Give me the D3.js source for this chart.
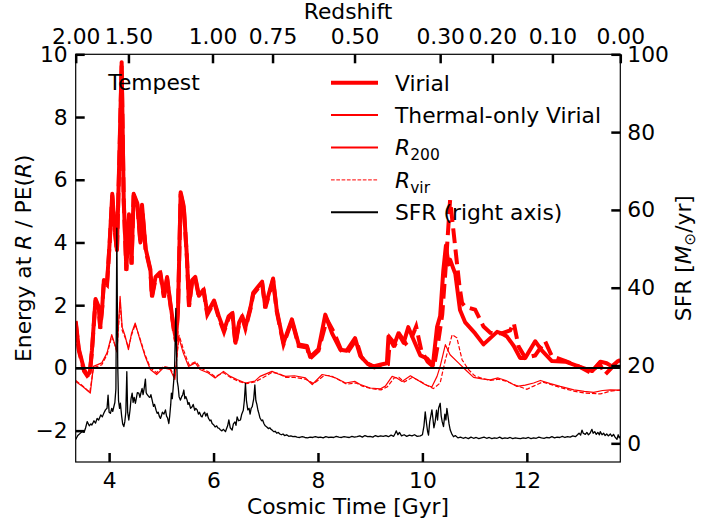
<!DOCTYPE html>
<html><head><meta charset="utf-8">
<script src="https://cdn.jsdelivr.net/npm/d3@7"></script>
<style>
body{margin:0;background:#fff;}
svg{display:block;font-family:"DejaVu Sans",sans-serif;}
</style></head>
<body><svg id="c" width="721" height="521"></svg>
<script>
// ---- data (cosmic time [Gyr], value) ----
const xTicks = [4, 6, 8, 10, 12];
const yLeftTicks = [-2, 0, 2, 4, 6, 8, 10];
const yRightTicks = [0, 20, 40, 60, 80, 100];
const zTickLabels = ["2.00","1.50","1.00","0.75","0.50","0.30","0.20","0.10","0.00"];
const zTickTimes  = [3.36, 4.37, 5.98, 7.13, 8.70, 10.34, 11.34, 12.49, 13.79];

const virialR200 = [[3.36,1.50],[3.42,0.60],[3.52,-0.05],[3.58,-0.22],[3.63,-0.15],[3.67,0.55],[3.74,2.20],[3.80,1.95],[3.83,1.30],[3.87,2.00],[3.90,2.80],[3.96,2.70],[4.01,4.00],[4.06,5.55],[4.11,4.40],[4.15,3.75],[4.20,7.00],[4.24,9.75],[4.28,5.35],[4.33,3.15],[4.38,4.90],[4.43,3.35],[4.47,5.55],[4.54,5.25],[4.60,4.00],[4.63,5.20],[4.70,3.80],[4.79,3.15],[4.82,2.30],[4.89,2.90],[4.98,3.05],[5.05,2.30],[5.11,2.90],[5.17,2.10],[5.24,1.25],[5.28,0.90],[5.32,1.90],[5.37,5.60],[5.43,5.15],[5.49,3.55],[5.53,2.00],[5.59,2.80],[5.65,2.90],[5.72,2.30],[5.81,2.50],[5.88,1.75],[6.01,2.15],[6.10,1.65],[6.20,1.20],[6.29,1.65],[6.36,1.75],[6.42,0.80],[6.49,1.45],[6.55,1.65],[6.61,1.30],[6.71,1.95],[6.76,2.40],[6.93,2.75],[6.99,1.95],[7.14,2.85],[7.21,1.85],[7.34,0.80],[7.50,1.55],[7.63,0.75],[7.79,0.70],[7.85,0.35],[8.01,0.60],[8.14,1.70],[8.27,1.10],[8.43,0.58],[8.55,0.55],[8.71,0.95],[8.81,0.38],[8.94,0.15],[9.06,0.05],[9.19,0.10],[9.32,0.15],[9.35,1.00],[9.45,0.70],[9.54,1.10],[9.64,0.80],[9.73,1.30],[9.83,0.90],[9.96,0.40],[10.09,0.30],[10.20,0.08],[10.28,1.30],[10.34,1.65],[10.40,3.10],[10.45,3.90],[10.50,3.30],[10.53,3.45],[10.63,3.00],[10.72,1.85],[10.82,1.45],[11.01,1.10],[11.17,0.75],[11.30,0.95],[11.43,1.15],[11.52,1.10],[11.62,1.00],[11.75,0.70],[11.87,0.32],[11.97,0.32],[12.16,0.85],[12.29,0.55],[12.48,0.22],[12.74,0.20],[12.99,0.05],[13.25,-0.10],[13.41,0.20],[13.53,0.15],[13.63,0.05],[13.73,0.20],[13.79,0.25]];

const virialRvir = [[3.36,1.45],[3.42,0.55],[3.52,-0.10],[3.58,-0.25],[3.63,-0.18],[3.67,0.50],[3.74,2.15],[3.80,1.90],[3.83,1.25],[3.87,1.95],[3.90,2.75],[3.96,2.65],[4.01,3.95],[4.06,5.50],[4.11,4.35],[4.15,3.70],[4.20,6.90],[4.24,9.65],[4.28,5.30],[4.33,3.10],[4.38,4.85],[4.43,3.30],[4.47,5.50],[4.54,5.20],[4.60,3.95],[4.63,5.15],[4.70,3.75],[4.79,3.10],[4.82,2.25],[4.89,2.85],[4.98,3.00],[5.05,2.25],[5.11,2.85],[5.17,2.05],[5.24,1.20],[5.28,0.85],[5.32,1.85],[5.37,5.55],[5.43,5.10],[5.49,3.50],[5.53,1.95],[5.59,2.75],[5.65,2.85],[5.72,2.25],[5.81,2.45],[5.88,1.70],[6.01,2.10],[6.10,1.60],[6.20,1.15],[6.29,1.60],[6.36,1.70],[6.42,0.75],[6.49,1.40],[6.55,1.60],[6.61,1.25],[6.71,1.90],[6.76,2.35],[6.93,2.70],[6.99,1.90],[7.14,2.80],[7.21,1.80],[7.34,0.75],[7.50,1.50],[7.63,0.70],[7.79,0.65],[7.85,0.30],[8.01,0.55],[8.17,1.55],[8.30,1.15],[8.45,0.55],[8.57,0.50],[8.73,0.90],[8.83,0.35],[8.96,0.12],[9.08,0.02],[9.21,0.08],[9.34,0.12],[9.38,0.95],[9.48,0.75],[9.57,1.05],[9.68,0.78],[9.79,0.95],[9.88,1.32],[9.98,0.55],[10.10,0.20],[10.22,0.02],[10.30,0.80],[10.38,1.70],[10.45,3.30],[10.53,5.35],[10.58,4.60],[10.62,3.98],[10.71,2.60],[10.76,2.07],[10.82,1.95],[11.01,1.86],[11.17,1.32],[11.30,1.12],[11.52,1.10],[11.68,1.20],[11.75,1.43],[11.84,0.69],[11.97,0.32],[12.16,0.40],[12.35,0.85],[12.48,0.37],[12.74,0.22],[12.99,0.05],[13.23,-0.16],[13.39,0.15],[13.50,-0.21],[13.65,0.05],[13.79,0.20]];

const thermalR200 = [[3.36,-0.43],[3.50,-0.60],[3.64,-0.80],[3.70,0.05],[3.86,0.16],[3.96,0.48],[4.05,1.06],[4.10,0.80],[4.15,0.53],[4.21,2.28],[4.25,1.30],[4.31,1.00],[4.37,0.58],[4.43,1.11],[4.50,1.43],[4.59,0.90],[4.69,0.37],[4.79,-0.05],[4.91,-0.21],[5.04,0.00],[5.17,-0.05],[5.26,-0.37],[5.33,1.00],[5.42,0.48],[5.52,0.05],[5.65,0.16],[5.74,-0.05],[5.90,-0.16],[6.03,-0.32],[6.19,-0.11],[6.32,-0.27],[6.45,-0.37],[6.61,-0.48],[6.79,-0.42],[6.89,-0.27],[7.12,-0.11],[7.25,-0.20],[7.38,-0.27],[7.55,-0.25],[7.76,-0.32],[7.89,-0.53],[8.08,-0.21],[8.20,-0.25],[8.34,-0.32],[8.53,-0.48],[8.71,-0.43],[8.81,-0.53],[9.00,-0.64],[9.19,-0.67],[9.29,-0.58],[9.42,-0.27],[9.51,-0.32],[9.61,-0.43],[9.77,-0.25],[9.89,-0.37],[10.05,-0.53],[10.18,-0.61],[10.28,-0.27],[10.34,0.05],[10.44,0.74],[10.53,0.42],[10.69,0.16],[10.82,-0.05],[10.98,-0.30],[11.14,-0.35],[11.30,-0.38],[11.45,-0.32],[11.60,-0.40],[11.81,-0.59],[11.97,-0.55],[12.13,-0.48],[12.26,-0.40],[12.45,-0.50],[12.64,-0.59],[12.90,-0.70],[13.10,-0.75],[13.28,-0.78],[13.45,-0.72],[13.60,-0.70],[13.79,-0.71]];

const thermalRvir = [[3.36,-0.40],[3.50,-0.58],[3.63,-0.78],[3.70,0.00],[3.86,0.10],[3.96,0.42],[4.05,1.00],[4.10,0.78],[4.15,0.50],[4.21,2.10],[4.25,1.20],[4.31,0.95],[4.37,0.65],[4.43,1.05],[4.50,1.38],[4.59,0.95],[4.69,0.42],[4.79,0.00],[4.91,-0.15],[5.04,0.05],[5.17,0.00],[5.26,-0.32],[5.34,1.05],[5.43,0.55],[5.53,0.10],[5.66,0.20],[5.75,0.00],[5.90,-0.12],[6.03,-0.28],[6.19,-0.15],[6.32,-0.30],[6.47,-0.42],[6.63,-0.50],[6.79,-0.45],[6.96,-0.30],[7.12,-0.14],[7.25,-0.18],[7.38,-0.30],[7.55,-0.30],[7.76,-0.36],[7.92,-0.50],[8.12,-0.24],[8.25,-0.25],[8.38,-0.36],[8.55,-0.52],[8.73,-0.48],[8.85,-0.58],[9.02,-0.66],[9.21,-0.70],[9.33,-0.60],[9.46,-0.32],[9.55,-0.30],[9.65,-0.45],[9.81,-0.30],[9.93,-0.40],[10.08,-0.55],[10.21,-0.66],[10.34,-0.48],[10.44,0.26],[10.57,1.06],[10.66,0.96],[10.76,0.26],[10.88,-0.05],[11.00,-0.25],[11.14,-0.33],[11.30,-0.40],[11.45,-0.36],[11.60,-0.42],[11.80,-0.56],[12.00,-0.68],[12.13,-0.58],[12.30,-0.45],[12.50,-0.55],[12.70,-0.65],[12.90,-0.74],[13.10,-0.80],[13.41,-0.83],[13.60,-0.74],[13.79,-0.71]];

const sfr = [[3.36,1.0],[3.40,2.0],[3.44,2.5],[3.48,3.0],[3.52,2.8],[3.55,4.0],[3.58,5.6],[3.62,4.5],[3.65,5.0],[3.67,4.7],[3.71,5.8],[3.74,5.2],[3.77,6.4],[3.80,6.0],[3.84,7.3],[3.87,6.8],[3.90,7.8],[3.93,8.6],[3.96,9.0],[3.98,12.4],[4.00,8.0],[4.025,7.7],[4.05,9.0],[4.07,8.2],[4.09,9.4],[4.11,10.5],[4.13,14.0],[4.148,55.3],[4.165,20.0],[4.18,11.0],[4.20,9.0],[4.216,10.3],[4.24,7.0],[4.26,5.0],[4.282,4.3],[4.30,5.5],[4.32,8.0],[4.339,18.4],[4.355,8.0],[4.377,6.0],[4.40,8.5],[4.42,11.5],[4.441,12.9],[4.46,10.5],[4.48,11.8],[4.504,10.3],[4.52,11.5],[4.54,13.0],[4.569,12.9],[4.59,11.8],[4.61,13.0],[4.632,14.1],[4.65,12.5],[4.67,14.0],[4.695,16.5],[4.71,13.0],[4.73,12.5],[4.761,12.0],[4.78,11.8],[4.80,12.5],[4.824,11.1],[4.85,9.5],[4.87,10.0],[4.90,8.5],[4.920,7.7],[4.94,8.0],[4.96,7.0],[4.983,6.4],[5.00,7.0],[5.02,8.0],[5.05,7.5],[5.079,8.6],[5.10,7.0],[5.12,6.5],[5.144,5.1],[5.16,7.0],[5.18,10.0],[5.193,12.9],[5.21,11.5],[5.239,16.3],[5.255,20.0],[5.278,34.7],[5.29,24.0],[5.305,16.0],[5.322,14.6],[5.34,12.0],[5.366,11.1],[5.39,12.0],[5.41,12.5],[5.431,13.7],[5.45,11.5],[5.47,12.0],[5.494,11.1],[5.51,10.0],[5.53,10.5],[5.56,9.0],[5.59,9.4],[5.61,10.0],[5.64,8.5],[5.66,9.0],[5.686,8.6],[5.71,7.5],[5.73,8.0],[5.76,7.0],[5.782,6.8],[5.80,7.5],[5.83,8.0],[5.85,7.0],[5.877,7.7],[5.90,6.5],[5.93,5.8],[5.95,6.0],[5.973,5.1],[6.00,4.8],[6.03,4.2],[6.06,4.5],[6.08,4.0],[6.102,3.9],[6.13,3.5],[6.16,3.2],[6.19,3.6],[6.228,3.0],[6.25,3.8],[6.27,4.5],[6.293,6.0],[6.32,4.0],[6.356,3.4],[6.38,5.0],[6.41,5.5],[6.43,4.6],[6.452,6.8],[6.48,5.8],[6.515,6.0],[6.54,7.5],[6.57,8.5],[6.59,11.0],[6.611,15.4],[6.63,11.0],[6.656,8.6],[6.68,9.0],[6.70,7.5],[6.72,9.0],[6.74,9.4],[6.77,11.5],[6.791,15.0],[6.81,11.0],[6.83,10.0],[6.85,8.5],[6.868,7.7],[6.89,6.5],[6.92,5.8],[6.94,6.0],[6.964,5.1],[6.99,4.5],[7.02,4.2],[7.05,3.8],[7.08,4.0],[7.10,3.6],[7.123,3.4],[7.15,3.0],[7.18,3.1],[7.21,2.6],[7.24,2.8],[7.27,2.4],[7.30,2.2],[7.33,2.4],[7.36,2.0],[7.40,2.2],[7.44,1.8],[7.48,1.9],[7.52,1.7],[7.56,1.8],[7.60,1.6],[7.65,1.5],[7.70,1.7],[7.75,1.5],[7.80,1.4],[7.85,1.6],[7.90,1.5],[7.95,1.7],[8.00,1.5],[8.05,1.6],[8.10,1.4],[8.15,1.7],[8.20,1.5],[8.25,1.6],[8.30,1.5],[8.35,1.8],[8.40,1.6],[8.45,1.5],[8.50,1.7],[8.55,1.6],[8.60,1.5],[8.65,1.8],[8.70,1.6],[8.75,1.7],[8.80,1.9],[8.85,1.6],[8.90,2.0],[8.95,1.7],[9.00,1.8],[9.05,1.6],[9.10,2.0],[9.15,1.7],[9.20,1.9],[9.25,1.8],[9.30,2.0],[9.35,1.7],[9.40,2.1],[9.45,1.8],[9.48,2.6],[9.50,3.2],[9.53,2.2],[9.56,2.8],[9.60,1.9],[9.65,2.2],[9.70,1.8],[9.75,2.1],[9.80,1.9],[9.85,2.2],[9.90,1.8],[9.96,1.9],[10.00,2.2],[10.03,4.5],[10.054,8.1],[10.08,5.0],[10.10,3.0],[10.117,2.1],[10.14,5.5],[10.16,7.0],[10.182,8.6],[10.20,6.5],[10.22,4.0],[10.245,5.6],[10.27,8.5],[10.29,6.0],[10.31,9.0],[10.341,10.3],[10.36,7.0],[10.38,5.5],[10.404,4.3],[10.43,7.5],[10.45,6.0],[10.469,9.0],[10.49,7.0],[10.51,5.0],[10.533,3.4],[10.56,2.5],[10.596,1.7],[10.63,2.0],[10.68,1.4],[10.73,1.6],[10.78,1.3],[10.83,1.5],[10.88,1.2],[10.93,1.6],[10.98,1.3],[11.03,1.5],[11.08,1.2],[11.13,1.4],[11.18,1.6],[11.23,1.3],[11.28,1.5],[11.33,1.2],[11.38,1.4],[11.43,1.3],[11.48,1.6],[11.53,1.2],[11.58,1.4],[11.63,1.3],[11.68,1.5],[11.73,1.2],[11.78,1.4],[11.83,1.3],[11.88,1.2],[11.93,1.4],[11.98,1.3],[12.03,1.5],[12.08,1.2],[12.13,1.4],[12.18,1.3],[12.23,1.6],[12.28,1.4],[12.33,1.3],[12.38,1.5],[12.43,1.4],[12.48,1.7],[12.53,1.4],[12.58,1.6],[12.63,1.5],[12.68,1.8],[12.73,1.5],[12.78,1.7],[12.83,1.6],[12.88,1.9],[12.93,1.7],[12.97,2.2],[13.00,2.6],[13.03,2.1],[13.056,3.4],[13.08,2.6],[13.12,2.3],[13.15,2.8],[13.18,2.2],[13.21,2.6],[13.247,3.6],[13.27,2.6],[13.30,3.0],[13.33,2.3],[13.36,2.8],[13.39,2.2],[13.406,3.0],[13.44,2.2],[13.47,2.6],[13.50,2.0],[13.53,2.4],[13.56,1.9],[13.60,2.4],[13.63,1.8],[13.66,2.3],[13.69,1.6],[13.726,1.0],[13.75,2.2],[13.77,1.4],[13.79,1.8]];

// ---- layout ----
const L = 75.7, R = 620.3, T = 54.3, B = 462;
const FS = 21.8;
const svg = d3.select("#c");
const x = d3.scaleLinear().domain([3.36, 13.79]).range([L, R]);
const yL = d3.scaleLinear().domain([-3, 10]).range([B, T]);
const yR = d3.scaleLinear().domain([-4.8, 100]).range([B, T]);
const fmt = v => (v < 0 ? "\u2212" + Math.abs(v) : String(v));

const plot = svg.append("g");
plot.append("clipPath").attr("id","clip").append("rect")
  .attr("x", L).attr("y", T).attr("width", R - L).attr("height", B - T);
const g = plot.append("g").attr("clip-path","url(#clip)");

const lineL = d3.line().x(d => x(d[0])).y(d => yL(d[1]));
const lineR = d3.line().x(d => x(d[0])).y(d => yR(d[1]));

g.append("path").datum(thermalRvir).attr("d", lineL).attr("fill","none")
  .attr("stroke","#ff0000").attr("stroke-width",1.2).attr("stroke-dasharray","4.4,1.9");
g.append("path").datum(thermalR200).attr("d", lineL).attr("fill","none")
  .attr("stroke","#ff0000").attr("stroke-width",1.2).attr("stroke-linejoin","round");
g.append("path").datum(virialRvir).attr("d", lineL).attr("fill","none")
  .attr("stroke","#ff0000").attr("stroke-width",4).attr("stroke-dasharray","14.8,6.4");
g.append("path").datum(virialR200).attr("d", lineL).attr("fill","none")
  .attr("stroke","#ff0000").attr("stroke-width",4).attr("stroke-linejoin","round");
g.append("line").attr("x1", L).attr("x2", R).attr("y1", yL(0)).attr("y2", yL(0))
  .attr("stroke","#000").attr("stroke-width",2);
g.append("path").datum(sfr).attr("d", lineR).attr("fill","none")
  .attr("stroke","#000").attr("stroke-width",1.3).attr("stroke-linejoin","round");

// frame
svg.append("rect").attr("x", L).attr("y", T).attr("width", R - L).attr("height", B - T)
  .attr("fill","none").attr("stroke","#000").attr("stroke-width",1.2);

// axes
function styleAxis(sel){
  sel.select(".domain").remove();
  sel.selectAll(".tick line").attr("stroke","#000").attr("stroke-width",2.5);
  sel.selectAll(".tick text").attr("fill","#000").style("font-size", FS + "px")
    .style("font-family","DejaVu Sans");
}
svg.append("g").attr("transform",`translate(0,${B})`)
  .call(d3.axisBottom(x).tickValues(xTicks).tickSize(-9).tickPadding(11).tickFormat(fmt))
  .call(styleAxis);
svg.append("g").attr("transform",`translate(0,${T})`)
  .call(d3.axisTop(x).tickValues(zTickTimes).tickSize(-9).tickPadding(10)
    .tickFormat((d,i) => zTickLabels[i]))
  .call(styleAxis);
svg.append("g").attr("transform",`translate(${L},0)`)
  .call(d3.axisLeft(yL).tickValues(yLeftTicks).tickSize(-9).tickPadding(8).tickFormat(fmt))
  .call(styleAxis);
svg.append("g").attr("transform",`translate(${R},0)`)
  .call(d3.axisRight(yR).tickValues(yRightTicks).tickSize(-9).tickPadding(7).tickFormat(fmt))
  .call(styleAxis);

// axis titles
const txt = (xx, yy) => svg.append("text").attr("x", xx).attr("y", yy)
  .style("font-size", FS + "px").attr("fill","#000");
txt((L + R) / 2, 514).attr("text-anchor","middle").text("Cosmic Time [Gyr]");
txt((L + R) / 2, 19).attr("text-anchor","middle").text("Redshift");

const yl = svg.append("text").attr("transform",`translate(31,${(T + B) / 2}) rotate(-90)`)
  .attr("text-anchor","middle").style("font-size", FS + "px");
yl.append("tspan").text("Energy at ");
yl.append("tspan").style("font-style","italic").text("R");
yl.append("tspan").text(" / PE(");
yl.append("tspan").style("font-style","italic").text("R");
yl.append("tspan").text(")");

const yr = svg.append("text").attr("transform",`translate(691,${(T + B) / 2}) rotate(-90)`)
  .attr("text-anchor","middle").style("font-size", FS + "px");
yr.append("tspan").text("SFR [");
yr.append("tspan").style("font-style","italic").text("M");
yr.append("tspan").attr("dy", 4).style("font-size","15px").text("\u2299");
yr.append("tspan").attr("dy", -4).text("/yr]");

txt(108.3, 90).text("Tempest");

// legend
const legend = [
  {label:"Virial", w:4, dash:null, color:"#ff0000"},
  {label:"Thermal-only Virial", w:2, dash:null, color:"#ff0000"},
  {label:"R200", w:2, dash:null, color:"#ff0000"},
  {label:"Rvir", w:1, dash:"3.7,1.6", color:"#ff0000"},
  {label:"SFR (right axis)", w:2, dash:null, color:"#000"}
];
const lg = svg.append("g");
legend.forEach((d, i) => {
  const cy = 82.7 + i * 32.4;
  lg.append("line").attr("x1", 331).attr("x2", 378).attr("y1", cy).attr("y2", cy)
    .attr("stroke", d.color).attr("stroke-width", d.w)
    .attr("stroke-dasharray", d.dash);
  const t = lg.append("text").attr("x", 395).attr("y", cy + 7.8).style("font-size", FS + "px");
  if (d.label === "R200" || d.label === "Rvir") {
    t.append("tspan").style("font-style","italic").text("R");
    t.append("tspan").attr("dy", 5).style("font-size","15.5px").text(d.label.slice(1));
  } else {
    t.text(d.label);
  }
});
</script></body></html>
